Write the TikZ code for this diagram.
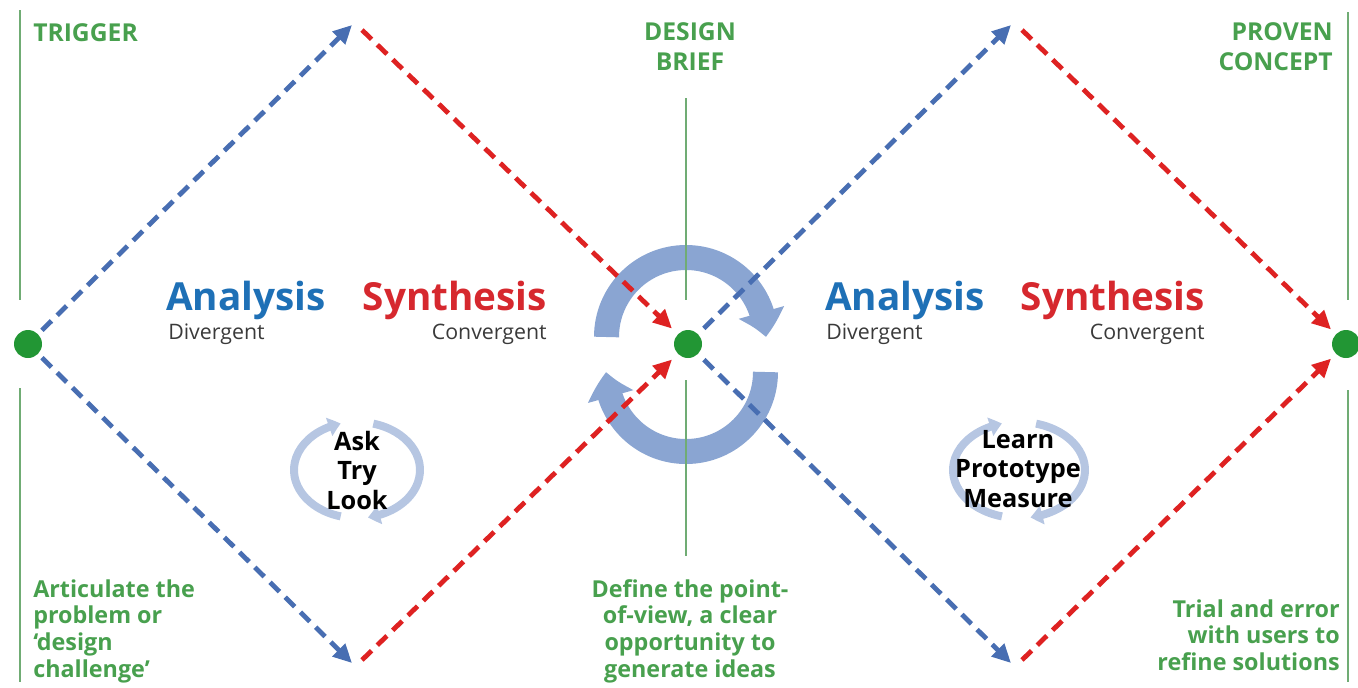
\documentclass[tikz,border=0pt]{standalone}
\usepackage{fontspec}
\setmainfont{Open Sans}
\usetikzlibrary{arrows.meta,bending}

\definecolor{dgreen}{RGB}{72,160,78}
\definecolor{dotgreen}{RGB}{34,150,52}
\definecolor{lgreen}{RGB}{112,172,116}
\definecolor{dblue}{RGB}{72,110,178}
\definecolor{dred}{RGB}{222,34,34}
\definecolor{anablue}{RGB}{30,112,182}
\definecolor{synred}{RGB}{214,40,46}
\definecolor{bigblue}{RGB}{138,165,210}
\definecolor{cycblue}{RGB}{182,198,226}
\definecolor{subgrey}{RGB}{58,58,58}

\begin{document}
\begin{tikzpicture}[x=0.75pt,y=0.75pt,yscale=-1,xscale=1,
  dot/.style={circle,fill=dotgreen,inner sep=0pt,minimum size=21pt},
  div/.style={draw=dblue,line width=3.6pt,dash pattern=on 10pt off 6pt,-{Triangle[length=14pt,width=13pt]}},
  conv/.style={draw=dred,line width=3.6pt,dash pattern=on 10pt off 6pt,-{Triangle[length=14pt,width=13pt]}},
  guide/.style={draw=lgreen,line width=1pt},
  bigarc/.style={draw=bigblue,line width=18.75pt,-{Triangle[length=19pt,width=34pt,bend]}},
  cyc/.style={draw=cycblue,line width=6pt,-{Triangle[length=9pt,width=14pt,bend]}},
  head/.style={text=dgreen,font=\bfseries\fontsize{18.5}{23}\selectfont,inner sep=0pt},
  note/.style={text=dgreen,font=\bfseries\fontsize{17.5}{20}\selectfont,inner sep=0pt},
  mode/.style={font=\bfseries\fontsize{29}{32}\selectfont,inner sep=0pt},
  sub/.style={text=subgrey,font=\fontsize{16}{19}\selectfont,inner sep=0pt},
  loop/.style={text=black,font=\bfseries\fontsize{19}{22}\selectfont,inner sep=0pt,align=center}]
\useasboundingbox (0,0) rectangle (1358,687);

%Shape: Arcs [id:center]
\coordinate (upc) at (686,337);
\coordinate (loc) at (686,372);
\draw [bigarc] (upc) ++(180:79.5) arc [start angle=180,end angle=360,radius=79.5];
\draw [bigarc] (loc) ++(0:79.5) arc [start angle=0,end angle=180,radius=79.5];

%Shape: Cycles
\coordinate (cyc1) at (357,470);
\coordinate (cyc2) at (1019,470);
\draw [cyc] (cyc1) ++(-75:63 and 48) arc [start angle=-75,end angle=80,x radius=63,y radius=48];
\draw [cyc] (cyc1) ++(105:63 and 48) arc [start angle=105,end angle=255,x radius=63,y radius=48];
\draw [cyc] (cyc2) ++(-75:66 and 48) arc [start angle=-75,end angle=80,x radius=66,y radius=48];
\draw [cyc] (cyc2) ++(105:66 and 48) arc [start angle=105,end angle=255,x radius=66,y radius=48];

%Straight Lines [id:guides]
\coordinate (g1a) at (20,10);   \coordinate (g1b) at (20,300);
\coordinate (g1c) at (20,388);  \coordinate (g1d) at (20,682);
\coordinate (g2a) at (686,98);  \coordinate (g2b) at (686,300);
\coordinate (g2c) at (686,380); \coordinate (g2d) at (686,556);
\coordinate (g3a) at (1348,12); \coordinate (g3b) at (1348,300);
\coordinate (g3c) at (1348,390); \coordinate (g3d) at (1348,682);
\draw [guide] (g1a) -- (g1b);
\draw [guide] (g1c) -- (g1d);
\draw [guide] (g2a) -- (g2b);
\draw [guide] (g2c) -- (g2d);
\draw [guide] (g3a) -- (g3b);
\draw [guide] (g3c) -- (g3d);

%Shape: Circles
\node [dot] (trigger) at (28,344) {};
\node [dot] (brief) at (688,344) {};
\node [dot] (proven) at (1346,344) {};

%Dashed Lines [id:diamonds]
\coordinate (t1b) at (352,25);   \coordinate (t1r) at (362,30);
\coordinate (b1b) at (352,663);  \coordinate (b1r) at (362,660);
\coordinate (t2b) at (1011,25);  \coordinate (t2r) at (1022,30);
\coordinate (b2b) at (1011,663); \coordinate (b2r) at (1022,660);
\draw [div, shorten <=4pt] (trigger) -- (t1b);
\draw [div, shorten <=4pt] (trigger) -- (b1b);
\draw [conv, shorten >=6pt] (t1r) -- (brief);
\draw [conv, shorten >=6pt] (b1r) -- (brief);
\draw [div, shorten <=6pt] (brief) -- (t2b);
\draw [div, shorten <=6pt] (brief) -- (b2b);
\draw [conv, shorten >=5pt] (t2r) -- (proven);
\draw [conv, shorten >=5pt] (b2r) -- (proven);

% Text Node
\node [head,anchor=north west] (trig) at (33,23) {TRIGGER};
% Text Node
\node [head,anchor=north,align=center] (dbrief) at (690,22) {DESIGN\\BRIEF};
% Text Node
\node [head,anchor=north east,align=right] (pconcept) at (1333,22) {PROVEN\\CONCEPT};
% Text Node
\node [mode,text=anablue,anchor=base west] (ana1) at (166,310) {Analysis};
\node [sub,anchor=base west] (div1) at (168,339) {Divergent};
\node [mode,text=synred,anchor=base east] (syn1) at (547,310) {Synthesis};
\node [sub,anchor=base east] (con1) at (547,339) {Convergent};
% Text Node
\node [mode,text=anablue,anchor=base west] (ana2) at (825,310) {Analysis};
\node [sub,anchor=base west] (div2) at (826,339) {Divergent};
\node [mode,text=synred,anchor=base east] (syn2) at (1205,310) {Synthesis};
\node [sub,anchor=base east] (con2) at (1205,339) {Convergent};
% Text Node
\node [loop,anchor=north] (atl) at (357,431) {Ask\\Try\\Look};
\node [loop,anchor=north] (lpm) at (1018,430) {Learn\\Prototype\\Measure};
% Text Node
\node [note,anchor=north west,align=left] (artic) at (33,579) {Articulate the\\problem or\\‘design\\challenge’};
\node [note,anchor=north,align=center] (define) at (690,579) {Define the point-\\of-view, a clear\\opportunity to\\generate ideas};
\node [note,anchor=north east,align=right] (trial) at (1340,599) {Trial and error\\with users to\\refine solutions};

\end{tikzpicture}
\end{document}
